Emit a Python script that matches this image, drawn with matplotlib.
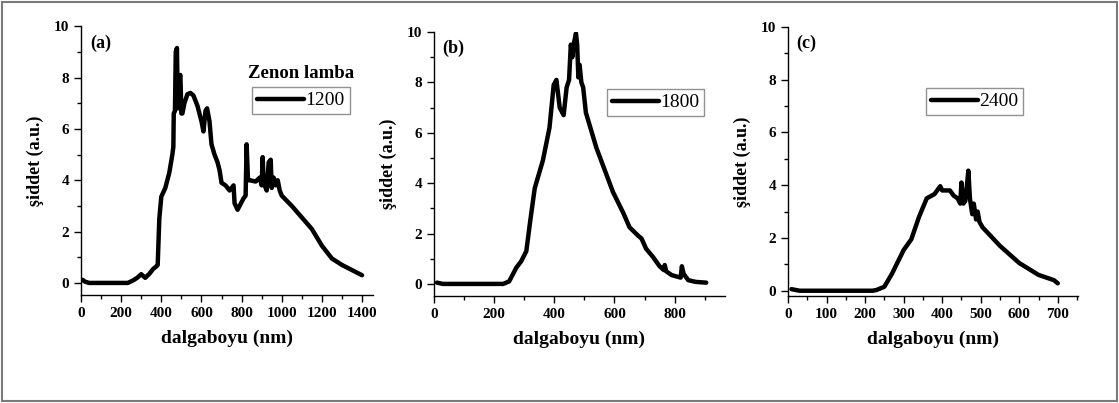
import matplotlib
matplotlib.use("Agg")
import matplotlib.pyplot as plt
from matplotlib.patches import Rectangle
from matplotlib.ticker import MultipleLocator

plt.rcParams['font.family'] = ['Liberation Serif', 'DejaVu Serif']

# (a) 1200
wl_a = [8, 20, 40, 100, 200, 233, 260, 280, 300, 320, 340, 360, 375, 382, 390, 400,
        420, 440, 455, 460, 462, 468, 472, 478, 482, 488, 495, 500, 505, 515, 530,
        545, 560, 580, 600, 610, 620, 628, 640, 650, 665, 680, 690, 700, 720, 740,
        760, 765, 780, 790, 810, 820, 825, 832, 840, 870, 890, 900, 905, 910, 925,
        935, 945, 950, 960, 970, 980, 990, 1000, 1050, 1100, 1150, 1200, 1250,
        1300, 1350, 1400]
int_a = [0.12, 0.05, 0.0, 0.0, 0.0, 0.0, 0.1, 0.2, 0.34, 0.2, 0.35, 0.55, 0.64, 0.7,
         2.5, 3.36, 3.7, 4.3, 5.0, 5.3, 6.6, 6.7, 9.0, 9.15, 6.8, 8.0, 8.1, 6.6, 6.6,
         7.0, 7.35, 7.4, 7.3, 6.9, 6.3, 5.9, 6.7, 6.8, 6.3, 5.4, 5.0, 4.7, 4.4, 3.9,
         3.8, 3.6, 3.8, 3.1, 2.85, 3.0, 3.3, 3.4, 5.4, 4.0, 4.0, 3.95, 4.1, 3.8, 4.9,
         3.9, 3.6, 4.7, 4.8, 3.7, 4.1, 3.8, 4.0, 3.6, 3.4, 3.0, 2.55, 2.1, 1.45,
         0.95, 0.7, 0.5, 0.3]

# (b) 1800
wl_b = [10, 30, 100, 230, 250, 274, 290, 307, 320, 335, 362, 384, 398, 407, 418,
        431, 441, 449, 455, 460, 466, 472, 476, 480, 484, 490, 496, 505, 540, 595,
        630, 650, 680, 690, 705, 728, 750, 764, 767, 772, 790, 820, 824, 830, 845,
        870, 905]
int_b = [0.05, 0.0, 0.0, 0.0, 0.1, 0.65, 0.9, 1.3, 2.5, 3.8, 4.9, 6.2, 7.9, 8.1,
         7.0, 6.7, 7.8, 8.1, 9.5, 9.0, 9.6, 9.95, 9.5, 8.2, 8.7, 8.0, 7.8, 6.8, 5.4,
         3.65, 2.8, 2.25, 1.9, 1.8, 1.4, 1.07, 0.7, 0.55, 0.75, 0.5, 0.35, 0.25, 0.7,
         0.4, 0.15, 0.08, 0.05]

# (c) 2400
wl_c = [9, 30, 100, 220, 230, 250, 270, 300, 320, 340, 360, 380, 395, 400, 420, 430,
        440, 447, 450, 455, 460, 463, 468, 472, 478, 482, 488, 492, 497, 505, 550,
        600, 650, 690, 700]
int_c = [0.06, 0.0, 0.0, 0.0, 0.03, 0.15, 0.65, 1.54, 1.95, 2.8, 3.5, 3.66, 3.96,
         3.8, 3.8, 3.6, 3.5, 3.3, 4.1, 3.3, 3.4, 3.8, 4.55, 3.5, 2.9, 3.3, 2.7, 3.0,
         2.6, 2.4, 1.7, 1.05, 0.6, 0.4, 0.28]

panels = [
    dict(x=wl_a, y=int_a, tag='(a)', leg='1200', rect=[0.0724, 0.268, 0.261, 0.667],
         xlim=(0, 1455), ylim=(-0.47, 10), xmaj=200, xmin=100, box=(252, 87)),
    dict(x=wl_b, y=int_b, tag='(b)', leg='1800', rect=[0.3878, 0.2655, 0.260, 0.655],
         xlim=(0, 967), ylim=(-0.48, 10), xmaj=200, xmin=100, box=(607, 89)),
    dict(x=wl_c, y=int_c, tag='(c)', leg='2400', rect=[0.7042, 0.2655, 0.259, 0.668],
         xlim=(0, 752), ylim=(-0.2, 10), xmaj=100, xmin=50, box=(926, 88)),
]

W, H = 1119, 403
fig = plt.figure(figsize=(W / 100, H / 100), dpi=100)
fig.patches.append(Rectangle((2 / W, 2 / H), 1 - 4 / W, 1 - 4 / H, transform=fig.transFigure,
                             fill=False, edgecolor='#7a7a7a', lw=1.5))

for p in panels:
    ax = fig.add_axes(p['rect'])
    ax.plot(p['x'], p['y'], color='black', lw=3.2, solid_joinstyle='round',
            solid_capstyle='round', label=p['leg'])
    ax.set_xlim(*p['xlim'])
    ax.set_ylim(*p['ylim'])
    ax.spines['top'].set_visible(False)
    ax.spines['right'].set_visible(False)
    for s in ('left', 'bottom'):
        ax.spines[s].set_linewidth(1.0)
    ax.xaxis.set_major_locator(MultipleLocator(p['xmaj']))
    ax.xaxis.set_minor_locator(MultipleLocator(p['xmin']))
    ax.yaxis.set_major_locator(MultipleLocator(2))
    ax.yaxis.set_minor_locator(MultipleLocator(1))
    ax.tick_params(which='major', direction='out', length=5, width=1, labelsize=11)
    ax.tick_params(which='minor', direction='out', length=3, width=1)
    for lab in ax.get_xticklabels() + ax.get_yticklabels():
        lab.set_fontweight('bold')
    ax.set_xlabel('dalgaboyu (nm)', fontsize=14, fontweight='bold', labelpad=7)
    ax.set_ylabel('şiddet (a.u.)', fontsize=13, fontweight='bold', labelpad=7)
    ax.text(0.03, 0.97, p['tag'], transform=ax.transAxes, fontsize=13,
            fontweight='bold', va='top', ha='left')

    bx, by = p['box']
    leg = ax.legend(loc='upper left', bbox_to_anchor=(bx / W, 1 - by / H),
                    bbox_transform=fig.transFigure, frameon=True, fancybox=False,
                    fontsize=14, handlelength=2.4, handletextpad=0.1,
                    borderpad=0.25, borderaxespad=0)
    leg.get_frame().set_edgecolor('#777777')
    leg.get_frame().set_linewidth(1.0)
    if p['tag'] == '(a)':
        fig.text(248 / W, 1 - 73 / H, 'Zenon lamba', fontsize=13.5, fontweight='bold',
                 va='center', ha='left')

fig.savefig('out.png', dpi=100)
